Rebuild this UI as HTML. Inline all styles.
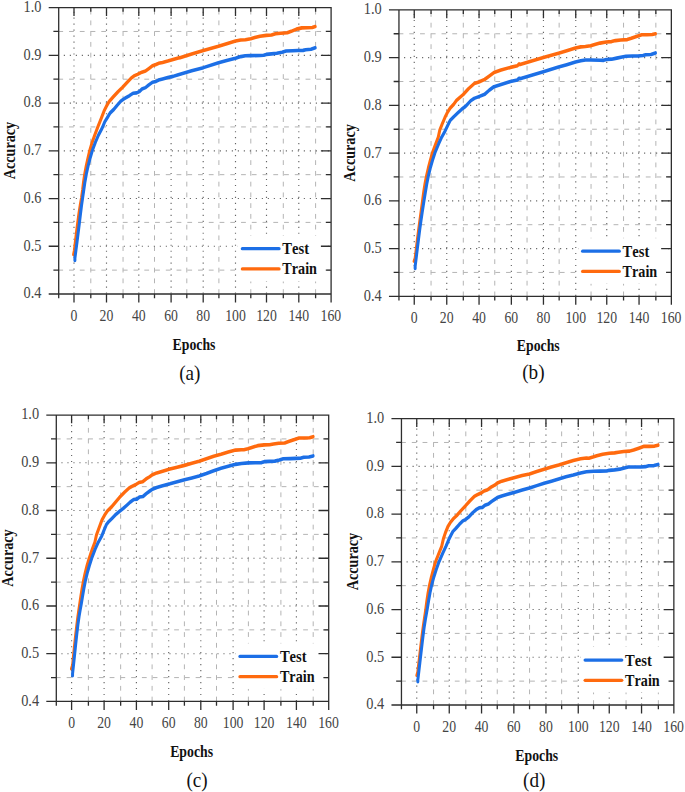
<!DOCTYPE html>
<html><head><meta charset="utf-8"><title>Accuracy curves</title>
<style>
html,body{margin:0;padding:0;background:#fff;}
body{width:685px;height:792px;overflow:hidden;}
svg{display:block;font-family:"Liberation Serif",serif;font-kerning:none;}
.ax{fill:none;stroke:#2e2e2e;stroke-width:1.3;}
.dot{fill:none;stroke:#666;stroke-width:1.15;stroke-dasharray:1.15 4.85;}
.dot.v{stroke-dasharray:1.15 4.825;}
.dash{fill:none;stroke:#b4b4b4;stroke-width:1;stroke-dasharray:4.8 5.95;}
.cv{fill:none;stroke-width:3.0;stroke-linejoin:round;stroke-linecap:round;}
.lg{fill:none;stroke-width:3.3;stroke-linecap:round;}
</style></head><body>
<svg width="685" height="792" viewBox="0 0 685 792">
<rect width="685" height="792" fill="#fff"/>
<g transform="translate(0.00 0.00)">
<path d="M74.00 293.60 V7.60" class="dot v"/>
<path d="M106.50 293.60 V7.60" class="dot v"/>
<path d="M138.80 293.60 V7.60" class="dot v"/>
<path d="M171.10 293.60 V7.60" class="dot v"/>
<path d="M203.20 293.60 V7.60" class="dot v"/>
<path d="M235.50 293.60 V7.60" class="dot v"/>
<path d="M266.50 293.60 V7.60" class="dot v"/>
<path d="M298.80 293.60 V7.60" class="dot v"/>
<path d="M90.80 294.00 V7.60" class="dash"/>
<path d="M123.05 294.00 V7.60" class="dash"/>
<path d="M154.50 294.00 V7.60" class="dash"/>
<path d="M186.80 294.00 V7.60" class="dash"/>
<path d="M218.90 294.00 V7.60" class="dash"/>
<path d="M250.80 294.00 V7.60" class="dash"/>
<path d="M283.30 294.00 V7.60" class="dash"/>
<path d="M315.60 294.00 V7.60" class="dash"/>
<path d="M57.80 246.27 H331.10" class="dot"/>
<path d="M57.80 198.53 H331.10" class="dot"/>
<path d="M57.80 150.80 H331.10" class="dot"/>
<path d="M57.80 103.07 H331.10" class="dot"/>
<path d="M57.80 55.33 H331.10" class="dot"/>
<path d="M58.30 270.13 H331.10" class="dash"/>
<path d="M58.30 222.40 H331.10" class="dash"/>
<path d="M58.30 174.67 H331.10" class="dash"/>
<path d="M58.30 126.93 H331.10" class="dash"/>
<path d="M58.30 79.20 H331.10" class="dash"/>
<path d="M58.30 31.47 H331.10" class="dash"/>
<rect x="238" y="236" width="87.5" height="45.5" fill="#fff"/>
<g transform="scale(1 1.2)">
<path d="M73.60 212.08 L74.30 209.00 L75.41 201.23 L76.54 193.40 L77.71 185.57 L78.94 178.02 L80.22 171.15 L81.53 164.80 L82.60 158.27 L83.56 151.47 L84.76 144.82 L86.23 138.31 L87.94 131.79 L89.80 125.25 L92.20 118.50 L94.70 112.67 L97.80 105.92 L100.90 99.33 L104.00 92.67 L106.60 88.19 L109.30 84.43 L113.70 80.37 L118.10 76.39 L122.50 72.82 L126.90 68.93 L131.30 64.99 L134.00 63.24 L137.50 61.96 L141.90 60.15 L145.50 59.21 L149.00 57.06 L152.50 54.82 L156.00 53.78 L158.60 52.75 L162.60 52.08 L167.80 50.90 L173.10 49.57 L178.30 48.34 L180.00 48.03 L191.70 45.05 L203.40 42.00 L218.50 38.56 L226.70 36.38 L235.50 34.20 L240.70 33.36 L245.40 33.10 L250.70 32.26 L254.80 31.26 L260.00 30.17 L266.30 29.46 L271.50 29.19 L275.50 28.10 L280.70 27.66 L287.30 27.32 L291.20 26.12 L296.50 24.28 L301.80 23.23 L307.00 23.18 L312.30 22.96 L315.20 22.17" class="cv" stroke="#ff6a0e"/>
<path d="M74.90 217.00 L74.90 215.25 L75.94 208.44 L77.09 201.14 L78.28 193.40 L79.42 185.57 L80.50 178.02 L81.53 171.15 L82.65 164.80 L83.78 158.27 L84.96 151.47 L86.38 144.82 L88.09 138.31 L90.12 131.79 L92.40 125.25 L95.40 118.50 L98.40 112.67 L102.20 106.67 L104.80 101.50 L107.50 97.83 L110.10 94.17 L113.70 91.25 L117.20 87.69 L120.70 84.41 L123.40 82.68 L126.00 81.30 L129.60 79.62 L133.10 77.70 L136.60 77.40 L139.30 76.39 L141.90 74.18 L145.50 73.03 L149.00 70.58 L152.50 68.55 L156.00 67.86 L158.60 66.75 L162.60 65.88 L167.80 64.67 L173.10 63.65 L178.30 62.22 L180.00 61.83 L191.70 59.00 L203.40 56.36 L218.50 52.30 L226.70 50.44 L235.50 48.49 L240.70 47.17 L245.40 46.44 L250.70 46.37 L260.00 46.25 L263.70 46.00 L266.30 45.33 L271.50 44.92 L276.80 44.40 L282.00 43.49 L286.00 42.55 L292.60 42.33 L297.80 42.10 L303.10 41.97 L305.70 41.44 L311.00 41.06 L315.20 39.83" class="cv" stroke="#1c6fe6"/>
</g>
<path d="M242.4 248.70 H279" class="lg" stroke="#1c6fe6"/>
<path d="M242.4 268.90 H279" class="lg" stroke="#ff6a0e"/>
<text transform="translate(282.30 253.90) scale(0.9 1)" font-size="16.2" text-anchor="start" font-weight="bold" fill="#111">Test</text>
<text transform="translate(282.30 273.80) scale(0.875 1)" font-size="16.2" text-anchor="start" font-weight="bold" fill="#111">Train</text>
<path d="M48.70 7.60 H331.75 M48.70 294.00 H331.75 M58.70 7.60 V298.20 M331.10 7.60 V302.50 M74.00 7.60 v8.30 M74.00 294.00 v8.50 M90.80 7.60 v4.20 M90.80 294.00 v4.20 M106.50 7.60 v8.30 M106.50 294.00 v8.50 M123.05 7.60 v4.20 M123.05 294.00 v4.20 M138.80 7.60 v8.30 M138.80 294.00 v8.50 M154.50 7.60 v4.20 M154.50 294.00 v4.20 M171.10 7.60 v8.30 M171.10 294.00 v8.50 M186.80 7.60 v4.20 M186.80 294.00 v4.20 M203.20 7.60 v8.30 M203.20 294.00 v8.50 M218.90 7.60 v4.20 M218.90 294.00 v4.20 M235.50 7.60 v8.30 M235.50 294.00 v8.50 M250.80 7.60 v4.20 M250.80 294.00 v4.20 M266.50 7.60 v8.30 M266.50 294.00 v8.50 M283.30 7.60 v4.20 M283.30 294.00 v4.20 M298.80 7.60 v8.30 M298.80 294.00 v8.50 M315.60 7.60 v4.20 M315.60 294.00 v4.20 M58.70 270.13 h-5.30 M331.10 270.13 h-5.30 M58.70 246.27 h-10.00 M331.10 246.27 h-10.20 M58.70 222.40 h-5.30 M331.10 222.40 h-5.30 M58.70 198.53 h-10.00 M331.10 198.53 h-10.20 M58.70 174.67 h-5.30 M331.10 174.67 h-5.30 M58.70 150.80 h-10.00 M331.10 150.80 h-10.20 M58.70 126.93 h-5.30 M331.10 126.93 h-5.30 M58.70 103.07 h-10.00 M331.10 103.07 h-10.20 M58.70 79.20 h-5.30 M331.10 79.20 h-5.30 M58.70 55.33 h-10.00 M331.10 55.33 h-10.20 M58.70 31.47 h-5.30 M331.10 31.47 h-5.30" class="ax"/>
<text transform="translate(74.00 320.90) scale(0.835 1)" font-size="16.5" text-anchor="middle" fill="#444">0</text>
<text transform="translate(106.50 320.90) scale(0.835 1)" font-size="16.5" text-anchor="middle" fill="#444">20</text>
<text transform="translate(138.80 320.90) scale(0.835 1)" font-size="16.5" text-anchor="middle" fill="#444">40</text>
<text transform="translate(171.10 320.90) scale(0.835 1)" font-size="16.5" text-anchor="middle" fill="#444">60</text>
<text transform="translate(203.20 320.90) scale(0.835 1)" font-size="16.5" text-anchor="middle" fill="#444">80</text>
<text transform="translate(235.50 320.90) scale(0.835 1)" font-size="16.5" text-anchor="middle" fill="#444">100</text>
<text transform="translate(266.50 320.90) scale(0.835 1)" font-size="16.5" text-anchor="middle" fill="#444">120</text>
<text transform="translate(298.80 320.90) scale(0.835 1)" font-size="16.5" text-anchor="middle" fill="#444">140</text>
<text transform="translate(330.90 320.90) scale(0.835 1)" font-size="16.5" text-anchor="middle" fill="#444">160</text>
<text transform="translate(41.50 298.40) scale(0.87 1)" font-size="16.5" text-anchor="end" fill="#444">0.4</text>
<text transform="translate(41.50 250.67) scale(0.87 1)" font-size="16.5" text-anchor="end" fill="#444">0.5</text>
<text transform="translate(41.50 202.93) scale(0.87 1)" font-size="16.5" text-anchor="end" fill="#444">0.6</text>
<text transform="translate(41.50 155.20) scale(0.87 1)" font-size="16.5" text-anchor="end" fill="#444">0.7</text>
<text transform="translate(41.50 107.47) scale(0.87 1)" font-size="16.5" text-anchor="end" fill="#444">0.8</text>
<text transform="translate(41.50 59.73) scale(0.87 1)" font-size="16.5" text-anchor="end" fill="#444">0.9</text>
<text transform="translate(41.50 12.00) scale(0.87 1)" font-size="16.5" text-anchor="end" fill="#444">1.0</text>
<text transform="translate(15.20 150.60) rotate(-90) scale(0.865 1)" font-size="16.4" text-anchor="middle" font-weight="bold" fill="#111">Accuracy</text>
<text transform="translate(194.00 350.00) scale(0.84 1)" font-size="16.4" text-anchor="middle" font-weight="bold" fill="#111">Epochs</text>
</g>
<g transform="translate(340.25 2.30)">
<path d="M74.00 293.60 V7.60" class="dot v"/>
<path d="M106.50 293.60 V7.60" class="dot v"/>
<path d="M138.80 293.60 V7.60" class="dot v"/>
<path d="M171.10 293.60 V7.60" class="dot v"/>
<path d="M203.20 293.60 V7.60" class="dot v"/>
<path d="M235.50 293.60 V7.60" class="dot v"/>
<path d="M266.50 293.60 V7.60" class="dot v"/>
<path d="M298.80 293.60 V7.60" class="dot v"/>
<path d="M90.80 294.00 V7.60" class="dash"/>
<path d="M123.05 294.00 V7.60" class="dash"/>
<path d="M154.50 294.00 V7.60" class="dash"/>
<path d="M186.80 294.00 V7.60" class="dash"/>
<path d="M218.90 294.00 V7.60" class="dash"/>
<path d="M250.80 294.00 V7.60" class="dash"/>
<path d="M283.30 294.00 V7.60" class="dash"/>
<path d="M315.60 294.00 V7.60" class="dash"/>
<path d="M57.80 246.27 H331.10" class="dot"/>
<path d="M57.80 198.53 H331.10" class="dot"/>
<path d="M57.80 150.80 H331.10" class="dot"/>
<path d="M57.80 103.07 H331.10" class="dot"/>
<path d="M57.80 55.33 H331.10" class="dot"/>
<path d="M58.30 270.13 H331.10" class="dash"/>
<path d="M58.30 222.40 H331.10" class="dash"/>
<path d="M58.30 174.67 H331.10" class="dash"/>
<path d="M58.30 126.93 H331.10" class="dash"/>
<path d="M58.30 79.20 H331.10" class="dash"/>
<path d="M58.30 31.47 H331.10" class="dash"/>
<rect x="238" y="236" width="87.5" height="45.5" fill="#fff"/>
<g transform="scale(1 1.2)">
<path d="M73.90 215.75 L74.90 213.33 L76.04 205.33 L77.21 197.36 L78.41 189.52 L79.62 181.96 L80.76 175.03 L81.69 169.17 L82.52 163.90 L83.49 157.96 L84.73 151.34 L86.25 144.72 L88.06 138.19 L90.08 131.72 L92.20 125.42 L95.34 118.25 L98.00 112.42 L99.55 106.42 L102.03 101.25 L104.61 96.17 L107.20 91.67 L109.90 88.24 L113.40 85.02 L116.40 81.56 L122.85 76.94 L128.10 72.11 L133.95 67.75 L138.60 66.44 L144.45 64.21 L149.10 61.39 L153.80 58.45 L160.80 56.47 L170.15 54.23 L177.15 52.90 L178.90 51.33 L179.75 51.93 L191.40 48.95 L203.10 45.97 L218.30 42.42 L226.50 40.34 L235.20 38.03 L240.50 37.13 L245.15 36.83 L250.40 36.17 L254.50 35.17 L259.75 34.00 L266.00 33.08 L271.30 32.75 L275.20 31.92 L280.50 31.42 L287.00 31.08 L291.00 30.00 L296.20 28.42 L301.50 27.00 L306.80 27.00 L312.00 26.83 L315.20 26.17" class="cv" stroke="#ff6a0e"/>
<path d="M74.90 221.75 L74.90 219.92 L75.97 212.80 L77.09 205.24 L78.26 197.36 L79.46 189.52 L80.71 181.96 L81.93 175.03 L83.02 169.17 L84.04 163.90 L85.19 157.96 L86.54 151.34 L88.11 144.72 L90.01 138.19 L92.24 131.72 L94.70 125.42 L98.24 118.25 L101.40 112.42 L104.87 107.17 L107.37 102.75 L109.96 98.33 L113.40 95.42 L117.80 91.94 L121.40 89.18 L124.90 86.93 L125.75 86.21 L130.45 82.06 L133.95 80.06 L138.60 78.58 L144.45 76.62 L149.10 73.18 L153.80 70.28 L160.80 68.52 L170.15 66.05 L177.15 64.68 L178.90 63.28 L179.75 63.62 L191.40 60.71 L203.10 57.86 L218.30 53.92 L226.50 52.00 L235.20 49.83 L240.50 48.75 L245.15 48.09 L250.40 48.14 L259.75 48.25 L263.40 48.37 L266.00 47.73 L271.30 47.38 L276.50 46.54 L281.80 45.59 L285.70 44.91 L292.30 44.80 L297.60 44.71 L302.80 44.31 L305.40 43.70 L310.70 43.48 L315.20 42.18" class="cv" stroke="#1c6fe6"/>
</g>
<path d="M242.4 248.90 H279" class="lg" stroke="#1c6fe6"/>
<path d="M242.4 269.10 H279" class="lg" stroke="#ff6a0e"/>
<text transform="translate(282.30 254.70) scale(0.9 1)" font-size="16.2" text-anchor="start" font-weight="bold" fill="#111">Test</text>
<text transform="translate(282.30 274.60) scale(0.875 1)" font-size="16.2" text-anchor="start" font-weight="bold" fill="#111">Train</text>
<path d="M48.70 7.60 H331.75 M48.70 294.00 H331.75 M58.70 7.60 V298.20 M331.10 7.60 V302.50 M74.00 7.60 v8.30 M74.00 294.00 v8.50 M90.80 7.60 v4.20 M90.80 294.00 v4.20 M106.50 7.60 v8.30 M106.50 294.00 v8.50 M123.05 7.60 v4.20 M123.05 294.00 v4.20 M138.80 7.60 v8.30 M138.80 294.00 v8.50 M154.50 7.60 v4.20 M154.50 294.00 v4.20 M171.10 7.60 v8.30 M171.10 294.00 v8.50 M186.80 7.60 v4.20 M186.80 294.00 v4.20 M203.20 7.60 v8.30 M203.20 294.00 v8.50 M218.90 7.60 v4.20 M218.90 294.00 v4.20 M235.50 7.60 v8.30 M235.50 294.00 v8.50 M250.80 7.60 v4.20 M250.80 294.00 v4.20 M266.50 7.60 v8.30 M266.50 294.00 v8.50 M283.30 7.60 v4.20 M283.30 294.00 v4.20 M298.80 7.60 v8.30 M298.80 294.00 v8.50 M315.60 7.60 v4.20 M315.60 294.00 v4.20 M58.70 270.13 h-5.30 M331.10 270.13 h-5.30 M58.70 246.27 h-10.00 M331.10 246.27 h-10.20 M58.70 222.40 h-5.30 M331.10 222.40 h-5.30 M58.70 198.53 h-10.00 M331.10 198.53 h-10.20 M58.70 174.67 h-5.30 M331.10 174.67 h-5.30 M58.70 150.80 h-10.00 M331.10 150.80 h-10.20 M58.70 126.93 h-5.30 M331.10 126.93 h-5.30 M58.70 103.07 h-10.00 M331.10 103.07 h-10.20 M58.70 79.20 h-5.30 M331.10 79.20 h-5.30 M58.70 55.33 h-10.00 M331.10 55.33 h-10.20 M58.70 31.47 h-5.30 M331.10 31.47 h-5.30" class="ax"/>
<text transform="translate(74.00 320.90) scale(0.835 1)" font-size="16.5" text-anchor="middle" fill="#444">0</text>
<text transform="translate(106.50 320.90) scale(0.835 1)" font-size="16.5" text-anchor="middle" fill="#444">20</text>
<text transform="translate(138.80 320.90) scale(0.835 1)" font-size="16.5" text-anchor="middle" fill="#444">40</text>
<text transform="translate(171.10 320.90) scale(0.835 1)" font-size="16.5" text-anchor="middle" fill="#444">60</text>
<text transform="translate(203.20 320.90) scale(0.835 1)" font-size="16.5" text-anchor="middle" fill="#444">80</text>
<text transform="translate(235.50 320.90) scale(0.835 1)" font-size="16.5" text-anchor="middle" fill="#444">100</text>
<text transform="translate(266.50 320.90) scale(0.835 1)" font-size="16.5" text-anchor="middle" fill="#444">120</text>
<text transform="translate(298.80 320.90) scale(0.835 1)" font-size="16.5" text-anchor="middle" fill="#444">140</text>
<text transform="translate(330.90 320.90) scale(0.835 1)" font-size="16.5" text-anchor="middle" fill="#444">160</text>
<text transform="translate(41.50 298.40) scale(0.87 1)" font-size="16.5" text-anchor="end" fill="#444">0.4</text>
<text transform="translate(41.50 250.67) scale(0.87 1)" font-size="16.5" text-anchor="end" fill="#444">0.5</text>
<text transform="translate(41.50 202.93) scale(0.87 1)" font-size="16.5" text-anchor="end" fill="#444">0.6</text>
<text transform="translate(41.50 155.20) scale(0.87 1)" font-size="16.5" text-anchor="end" fill="#444">0.7</text>
<text transform="translate(41.50 107.47) scale(0.87 1)" font-size="16.5" text-anchor="end" fill="#444">0.8</text>
<text transform="translate(41.50 59.73) scale(0.87 1)" font-size="16.5" text-anchor="end" fill="#444">0.9</text>
<text transform="translate(41.50 12.00) scale(0.87 1)" font-size="16.5" text-anchor="end" fill="#444">1.0</text>
<text transform="translate(15.20 150.60) rotate(-90) scale(0.865 1)" font-size="16.4" text-anchor="middle" font-weight="bold" fill="#111">Accuracy</text>
<text transform="translate(198.00 348.25) scale(0.84 1)" font-size="16.4" text-anchor="middle" font-weight="bold" fill="#111">Epochs</text>
</g>
<g transform="translate(-2.40 407.45)">
<path d="M74.00 293.60 V7.60" class="dot v"/>
<path d="M106.50 293.60 V7.60" class="dot v"/>
<path d="M138.80 293.60 V7.60" class="dot v"/>
<path d="M171.10 293.60 V7.60" class="dot v"/>
<path d="M203.20 293.60 V7.60" class="dot v"/>
<path d="M235.50 293.60 V7.60" class="dot v"/>
<path d="M266.50 293.60 V7.60" class="dot v"/>
<path d="M298.80 293.60 V7.60" class="dot v"/>
<path d="M90.80 294.00 V7.60" class="dash"/>
<path d="M123.05 294.00 V7.60" class="dash"/>
<path d="M154.50 294.00 V7.60" class="dash"/>
<path d="M186.80 294.00 V7.60" class="dash"/>
<path d="M218.90 294.00 V7.60" class="dash"/>
<path d="M250.80 294.00 V7.60" class="dash"/>
<path d="M283.30 294.00 V7.60" class="dash"/>
<path d="M315.60 294.00 V7.60" class="dash"/>
<path d="M57.80 246.27 H331.10" class="dot"/>
<path d="M57.80 198.53 H331.10" class="dot"/>
<path d="M57.80 150.80 H331.10" class="dot"/>
<path d="M57.80 103.07 H331.10" class="dot"/>
<path d="M57.80 55.33 H331.10" class="dot"/>
<path d="M58.30 270.13 H331.10" class="dash"/>
<path d="M58.30 222.40 H331.10" class="dash"/>
<path d="M58.30 174.67 H331.10" class="dash"/>
<path d="M58.30 126.93 H331.10" class="dash"/>
<path d="M58.30 79.20 H331.10" class="dash"/>
<path d="M58.30 31.47 H331.10" class="dash"/>
<rect x="238" y="236" width="87.5" height="45.5" fill="#fff"/>
<g transform="scale(1 1.2)">
<path d="M73.90 217.75 L75.00 214.83 L76.04 205.92 L77.11 197.19 L78.19 188.82 L79.27 181.04 L80.30 174.33 L81.23 168.93 L82.12 163.88 L83.15 157.94 L84.39 151.32 L85.82 144.71 L87.49 138.14 L89.42 131.76 L91.55 125.75 L94.64 118.17 L97.29 112.25 L98.85 106.33 L101.41 100.42 L104.35 93.79 L107.00 89.75 L109.65 86.42 L114.10 82.75 L118.50 78.31 L122.90 74.05 L127.30 70.36 L131.70 67.06 L134.40 65.73 L137.90 64.43 L141.45 62.56 L145.00 61.92 L148.50 59.54 L152.05 57.74 L154.80 56.07 L159.15 54.53 L165.00 53.07 L172.30 51.36 L179.60 49.76 L186.90 48.27 L194.20 46.55 L201.50 44.82 L208.80 42.78 L216.10 40.61 L223.40 39.00 L230.70 37.14 L238.00 35.54 L243.80 35.25 L246.30 35.30 L250.25 34.42 L254.20 33.30 L260.10 31.83 L266.70 31.16 L271.90 31.06 L275.90 30.49 L281.10 29.87 L287.05 29.62 L291.00 28.45 L296.25 26.92 L301.50 25.49 L306.75 25.47 L312.00 25.24 L315.50 24.34" class="cv" stroke="#ff6a0e"/>
<path d="M74.95 223.58 L74.95 221.83 L75.99 214.09 L77.03 205.80 L78.11 197.19 L79.20 188.82 L80.31 181.04 L81.43 174.33 L82.54 168.93 L83.65 163.88 L84.85 157.94 L86.18 151.32 L87.73 144.71 L89.61 138.14 L91.78 131.76 L94.10 125.75 L97.54 118.17 L100.69 112.25 L104.17 107.04 L106.26 102.63 L108.84 97.50 L111.40 94.92 L114.95 91.96 L118.50 88.97 L122.00 86.59 L125.55 84.18 L129.10 81.58 L132.60 78.92 L136.15 76.75 L139.25 76.39 L141.90 74.68 L145.40 74.25 L148.50 71.92 L152.05 69.74 L154.80 68.11 L159.15 66.65 L165.00 65.19 L172.30 63.67 L179.60 61.97 L186.90 60.26 L194.20 58.73 L201.50 57.20 L208.80 55.11 L216.10 52.82 L223.40 50.73 L230.70 49.04 L238.00 47.42 L243.80 46.66 L250.90 46.17 L257.50 46.06 L264.05 45.95 L266.70 45.17 L271.90 44.97 L277.20 44.72 L281.80 43.83 L285.70 42.81 L292.95 42.61 L298.20 42.47 L302.80 42.32 L306.10 41.51 L311.35 41.28 L315.50 40.38" class="cv" stroke="#1c6fe6"/>
</g>
<path d="M242.4 249.00 H279" class="lg" stroke="#1c6fe6"/>
<path d="M242.4 269.20 H279" class="lg" stroke="#ff6a0e"/>
<text transform="translate(282.30 255.00) scale(0.9 1)" font-size="16.2" text-anchor="start" font-weight="bold" fill="#111">Test</text>
<text transform="translate(282.30 274.90) scale(0.875 1)" font-size="16.2" text-anchor="start" font-weight="bold" fill="#111">Train</text>
<path d="M48.70 7.60 H331.75 M48.70 294.00 H331.75 M58.70 7.60 V298.20 M331.10 7.60 V302.50 M74.00 7.60 v8.30 M74.00 294.00 v8.50 M90.80 7.60 v4.20 M90.80 294.00 v4.20 M106.50 7.60 v8.30 M106.50 294.00 v8.50 M123.05 7.60 v4.20 M123.05 294.00 v4.20 M138.80 7.60 v8.30 M138.80 294.00 v8.50 M154.50 7.60 v4.20 M154.50 294.00 v4.20 M171.10 7.60 v8.30 M171.10 294.00 v8.50 M186.80 7.60 v4.20 M186.80 294.00 v4.20 M203.20 7.60 v8.30 M203.20 294.00 v8.50 M218.90 7.60 v4.20 M218.90 294.00 v4.20 M235.50 7.60 v8.30 M235.50 294.00 v8.50 M250.80 7.60 v4.20 M250.80 294.00 v4.20 M266.50 7.60 v8.30 M266.50 294.00 v8.50 M283.30 7.60 v4.20 M283.30 294.00 v4.20 M298.80 7.60 v8.30 M298.80 294.00 v8.50 M315.60 7.60 v4.20 M315.60 294.00 v4.20 M58.70 270.13 h-5.30 M331.10 270.13 h-5.30 M58.70 246.27 h-10.00 M331.10 246.27 h-10.20 M58.70 222.40 h-5.30 M331.10 222.40 h-5.30 M58.70 198.53 h-10.00 M331.10 198.53 h-10.20 M58.70 174.67 h-5.30 M331.10 174.67 h-5.30 M58.70 150.80 h-10.00 M331.10 150.80 h-10.20 M58.70 126.93 h-5.30 M331.10 126.93 h-5.30 M58.70 103.07 h-10.00 M331.10 103.07 h-10.20 M58.70 79.20 h-5.30 M331.10 79.20 h-5.30 M58.70 55.33 h-10.00 M331.10 55.33 h-10.20 M58.70 31.47 h-5.30 M331.10 31.47 h-5.30" class="ax"/>
<text transform="translate(74.00 320.90) scale(0.835 1)" font-size="16.5" text-anchor="middle" fill="#444">0</text>
<text transform="translate(106.50 320.90) scale(0.835 1)" font-size="16.5" text-anchor="middle" fill="#444">20</text>
<text transform="translate(138.80 320.90) scale(0.835 1)" font-size="16.5" text-anchor="middle" fill="#444">40</text>
<text transform="translate(171.10 320.90) scale(0.835 1)" font-size="16.5" text-anchor="middle" fill="#444">60</text>
<text transform="translate(203.20 320.90) scale(0.835 1)" font-size="16.5" text-anchor="middle" fill="#444">80</text>
<text transform="translate(235.50 320.90) scale(0.835 1)" font-size="16.5" text-anchor="middle" fill="#444">100</text>
<text transform="translate(266.50 320.90) scale(0.835 1)" font-size="16.5" text-anchor="middle" fill="#444">120</text>
<text transform="translate(298.80 320.90) scale(0.835 1)" font-size="16.5" text-anchor="middle" fill="#444">140</text>
<text transform="translate(330.90 320.90) scale(0.835 1)" font-size="16.5" text-anchor="middle" fill="#444">160</text>
<text transform="translate(41.50 298.40) scale(0.87 1)" font-size="16.5" text-anchor="end" fill="#444">0.4</text>
<text transform="translate(41.50 250.67) scale(0.87 1)" font-size="16.5" text-anchor="end" fill="#444">0.5</text>
<text transform="translate(41.50 202.93) scale(0.87 1)" font-size="16.5" text-anchor="end" fill="#444">0.6</text>
<text transform="translate(41.50 155.20) scale(0.87 1)" font-size="16.5" text-anchor="end" fill="#444">0.7</text>
<text transform="translate(41.50 107.47) scale(0.87 1)" font-size="16.5" text-anchor="end" fill="#444">0.8</text>
<text transform="translate(41.50 59.73) scale(0.87 1)" font-size="16.5" text-anchor="end" fill="#444">0.9</text>
<text transform="translate(41.50 12.00) scale(0.87 1)" font-size="16.5" text-anchor="end" fill="#444">1.0</text>
<text transform="translate(15.20 150.60) rotate(-90) scale(0.865 1)" font-size="16.4" text-anchor="middle" font-weight="bold" fill="#111">Accuracy</text>
<text transform="translate(194.00 350.00) scale(0.84 1)" font-size="16.4" text-anchor="middle" font-weight="bold" fill="#111">Epochs</text>
</g>
<g transform="translate(342.75 411.00)">
<path d="M74.00 293.60 V7.60" class="dot v"/>
<path d="M106.50 293.60 V7.60" class="dot v"/>
<path d="M138.80 293.60 V7.60" class="dot v"/>
<path d="M171.10 293.60 V7.60" class="dot v"/>
<path d="M203.20 293.60 V7.60" class="dot v"/>
<path d="M235.50 293.60 V7.60" class="dot v"/>
<path d="M266.50 293.60 V7.60" class="dot v"/>
<path d="M298.80 293.60 V7.60" class="dot v"/>
<path d="M90.80 294.00 V7.60" class="dash"/>
<path d="M123.05 294.00 V7.60" class="dash"/>
<path d="M154.50 294.00 V7.60" class="dash"/>
<path d="M186.80 294.00 V7.60" class="dash"/>
<path d="M218.90 294.00 V7.60" class="dash"/>
<path d="M250.80 294.00 V7.60" class="dash"/>
<path d="M283.30 294.00 V7.60" class="dash"/>
<path d="M315.60 294.00 V7.60" class="dash"/>
<path d="M57.80 246.27 H331.10" class="dot"/>
<path d="M57.80 198.53 H331.10" class="dot"/>
<path d="M57.80 150.80 H331.10" class="dot"/>
<path d="M57.80 103.07 H331.10" class="dot"/>
<path d="M57.80 55.33 H331.10" class="dot"/>
<path d="M58.30 270.13 H331.10" class="dash"/>
<path d="M58.30 222.40 H331.10" class="dash"/>
<path d="M58.30 174.67 H331.10" class="dash"/>
<path d="M58.30 126.93 H331.10" class="dash"/>
<path d="M58.30 79.20 H331.10" class="dash"/>
<path d="M58.30 31.47 H331.10" class="dash"/>
<rect x="238" y="236" width="87.5" height="45.5" fill="#fff"/>
<g transform="scale(1 1.2)">
<path d="M74.10 220.21 L75.10 217.33 L76.17 209.42 L77.25 201.58 L78.33 193.87 L79.42 186.40 L80.53 179.44 L81.59 173.48 L82.46 168.67 L83.22 164.01 L84.12 158.21 L85.32 151.55 L86.82 144.92 L88.62 138.39 L90.65 131.95 L92.80 125.67 L96.17 118.50 L98.95 112.63 L100.59 106.67 L102.61 101.54 L105.12 96.38 L107.75 92.71 L110.40 89.94 L113.90 87.18 L118.35 82.90 L122.75 78.99 L127.15 74.89 L131.60 71.14 L134.25 69.92 L137.75 68.58 L141.30 66.67 L144.85 65.56 L148.35 63.36 L151.90 61.79 L154.65 59.96 L159.00 58.46 L164.85 57.09 L172.15 55.51 L179.45 53.83 L186.75 52.41 L194.05 50.48 L201.35 48.53 L208.65 46.67 L215.95 45.06 L223.25 43.07 L230.55 41.34 L237.85 39.80 L243.70 39.22 L246.15 39.32 L250.10 38.42 L254.05 37.34 L259.95 36.01 L266.55 35.27 L271.80 34.90 L275.70 34.35 L281.00 33.69 L286.90 33.44 L290.85 32.44 L296.10 30.96 L301.35 29.46 L306.60 29.46 L311.85 29.25 L315.30 28.50" class="cv" stroke="#ff6a0e"/>
<path d="M75.10 225.67 L75.10 223.92 L76.12 216.82 L77.17 209.33 L78.25 201.58 L79.33 193.87 L80.42 186.40 L81.55 179.44 L82.69 173.48 L83.72 168.67 L84.69 164.01 L85.83 158.21 L87.25 151.55 L88.97 144.92 L91.08 138.39 L93.55 131.95 L96.25 125.67 L100.02 118.50 L103.30 112.63 L105.92 107.42 L108.03 103.75 L110.12 100.42 L113.12 97.83 L116.55 94.54 L120.10 91.58 L122.75 90.50 L126.30 88.07 L129.80 84.90 L133.35 82.26 L136.45 80.68 L139.55 80.34 L142.20 78.51 L145.70 77.53 L148.80 75.47 L152.35 73.43 L154.65 72.09 L159.00 70.82 L164.85 69.41 L172.15 67.71 L179.45 65.85 L186.75 64.08 L194.05 62.19 L201.35 60.27 L208.65 58.48 L215.95 56.68 L223.25 54.85 L230.55 53.38 L237.85 51.64 L243.70 50.64 L250.75 50.21 L257.35 50.13 L263.90 50.06 L266.55 49.46 L271.80 49.06 L277.05 48.45 L281.65 47.44 L285.60 46.63 L292.80 46.63 L298.05 46.63 L302.65 46.38 L305.95 45.62 L311.20 45.50 L315.30 44.54" class="cv" stroke="#1c6fe6"/>
</g>
<path d="M242.4 249.10 H279" class="lg" stroke="#1c6fe6"/>
<path d="M242.4 269.30 H279" class="lg" stroke="#ff6a0e"/>
<text transform="translate(282.30 254.60) scale(0.9 1)" font-size="16.2" text-anchor="start" font-weight="bold" fill="#111">Test</text>
<text transform="translate(282.30 274.50) scale(0.875 1)" font-size="16.2" text-anchor="start" font-weight="bold" fill="#111">Train</text>
<path d="M48.70 7.60 H331.75 M48.70 294.00 H331.75 M58.70 7.60 V298.20 M331.10 7.60 V302.50 M74.00 7.60 v8.30 M74.00 294.00 v8.50 M90.80 7.60 v4.20 M90.80 294.00 v4.20 M106.50 7.60 v8.30 M106.50 294.00 v8.50 M123.05 7.60 v4.20 M123.05 294.00 v4.20 M138.80 7.60 v8.30 M138.80 294.00 v8.50 M154.50 7.60 v4.20 M154.50 294.00 v4.20 M171.10 7.60 v8.30 M171.10 294.00 v8.50 M186.80 7.60 v4.20 M186.80 294.00 v4.20 M203.20 7.60 v8.30 M203.20 294.00 v8.50 M218.90 7.60 v4.20 M218.90 294.00 v4.20 M235.50 7.60 v8.30 M235.50 294.00 v8.50 M250.80 7.60 v4.20 M250.80 294.00 v4.20 M266.50 7.60 v8.30 M266.50 294.00 v8.50 M283.30 7.60 v4.20 M283.30 294.00 v4.20 M298.80 7.60 v8.30 M298.80 294.00 v8.50 M315.60 7.60 v4.20 M315.60 294.00 v4.20 M58.70 270.13 h-5.30 M331.10 270.13 h-5.30 M58.70 246.27 h-10.00 M331.10 246.27 h-10.20 M58.70 222.40 h-5.30 M331.10 222.40 h-5.30 M58.70 198.53 h-10.00 M331.10 198.53 h-10.20 M58.70 174.67 h-5.30 M331.10 174.67 h-5.30 M58.70 150.80 h-10.00 M331.10 150.80 h-10.20 M58.70 126.93 h-5.30 M331.10 126.93 h-5.30 M58.70 103.07 h-10.00 M331.10 103.07 h-10.20 M58.70 79.20 h-5.30 M331.10 79.20 h-5.30 M58.70 55.33 h-10.00 M331.10 55.33 h-10.20 M58.70 31.47 h-5.30 M331.10 31.47 h-5.30" class="ax"/>
<text transform="translate(74.00 320.90) scale(0.835 1)" font-size="16.5" text-anchor="middle" fill="#444">0</text>
<text transform="translate(106.50 320.90) scale(0.835 1)" font-size="16.5" text-anchor="middle" fill="#444">20</text>
<text transform="translate(138.80 320.90) scale(0.835 1)" font-size="16.5" text-anchor="middle" fill="#444">40</text>
<text transform="translate(171.10 320.90) scale(0.835 1)" font-size="16.5" text-anchor="middle" fill="#444">60</text>
<text transform="translate(203.20 320.90) scale(0.835 1)" font-size="16.5" text-anchor="middle" fill="#444">80</text>
<text transform="translate(235.50 320.90) scale(0.835 1)" font-size="16.5" text-anchor="middle" fill="#444">100</text>
<text transform="translate(266.50 320.90) scale(0.835 1)" font-size="16.5" text-anchor="middle" fill="#444">120</text>
<text transform="translate(298.80 320.90) scale(0.835 1)" font-size="16.5" text-anchor="middle" fill="#444">140</text>
<text transform="translate(330.90 320.90) scale(0.835 1)" font-size="16.5" text-anchor="middle" fill="#444">160</text>
<text transform="translate(41.50 298.40) scale(0.87 1)" font-size="16.5" text-anchor="end" fill="#444">0.4</text>
<text transform="translate(41.50 250.67) scale(0.87 1)" font-size="16.5" text-anchor="end" fill="#444">0.5</text>
<text transform="translate(41.50 202.93) scale(0.87 1)" font-size="16.5" text-anchor="end" fill="#444">0.6</text>
<text transform="translate(41.50 155.20) scale(0.87 1)" font-size="16.5" text-anchor="end" fill="#444">0.7</text>
<text transform="translate(41.50 107.47) scale(0.87 1)" font-size="16.5" text-anchor="end" fill="#444">0.8</text>
<text transform="translate(41.50 59.73) scale(0.87 1)" font-size="16.5" text-anchor="end" fill="#444">0.9</text>
<text transform="translate(41.50 12.00) scale(0.87 1)" font-size="16.5" text-anchor="end" fill="#444">1.0</text>
<text transform="translate(15.20 150.60) rotate(-90) scale(0.865 1)" font-size="16.4" text-anchor="middle" font-weight="bold" fill="#111">Accuracy</text>
<text transform="translate(194.00 350.00) scale(0.84 1)" font-size="16.4" text-anchor="middle" font-weight="bold" fill="#111">Epochs</text>
</g>
<text x="189.8" y="379.6" font-size="21.3" text-anchor="middle" fill="#111" transform="translate(189.8 0) scale(0.9 1) translate(-189.8 0)">(a)</text>
<text x="533.4" y="379.1" font-size="21.3" text-anchor="middle" fill="#111" transform="translate(533.4 0) scale(0.9 1) translate(-533.4 0)">(b)</text>
<text x="197.1" y="787.1" font-size="21.3" text-anchor="middle" fill="#111" transform="translate(197.1 0) scale(0.9 1) translate(-197.1 0)">(c)</text>
<text x="534.2" y="787.1" font-size="21.3" text-anchor="middle" fill="#111" transform="translate(534.2 0) scale(0.9 1) translate(-534.2 0)">(d)</text>
</svg></body></html>
